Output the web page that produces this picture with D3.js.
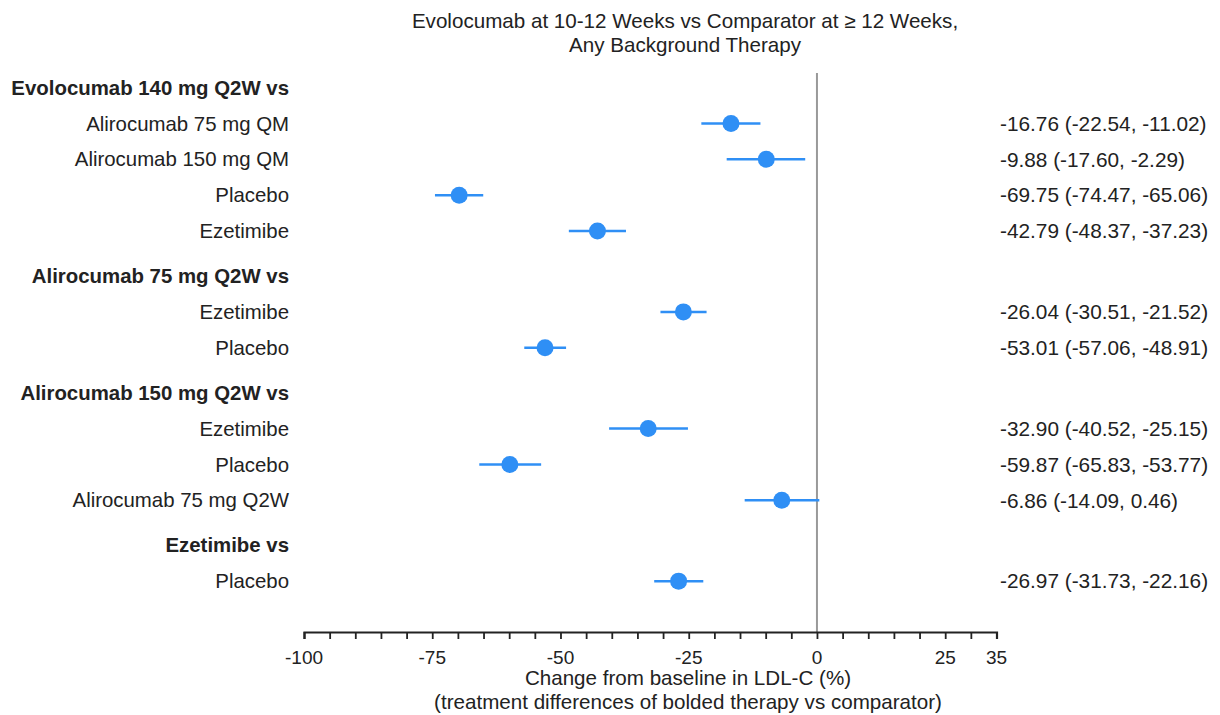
<!DOCTYPE html>
<html>
<head>
<meta charset="utf-8">
<script src="https://cdn.jsdelivr.net/npm/d3@7"></script>
<style>
  body { margin: 0; background: #fff; }
  text { font-family: "Liberation Sans", Arial, sans-serif; fill: #222; }
</style>
</head>
<body>
<svg id="chart" width="1220" height="715"></svg>
<script>
// ---- data ----
const groups = [
  "Evolocumab 140 mg Q2W vs",
  "Alirocumab 75 mg Q2W vs",
  "Alirocumab 150 mg Q2W vs",
  "Ezetimibe vs"
];
const comparators = [
  ["Alirocumab 75 mg QM", "Alirocumab 150 mg QM", "Placebo", "Ezetimibe"],
  ["Ezetimibe", "Placebo"],
  ["Ezetimibe", "Placebo", "Alirocumab 75 mg Q2W"],
  ["Placebo"]
];
const estimates = [
  [-16.76, -9.88, -69.75, -42.79],
  [-26.04, -53.01],
  [-32.90, -59.87, -6.86],
  [-26.97]
];
const lowerCI = [
  [-22.54, -17.60, -74.47, -48.37],
  [-30.51, -57.06],
  [-40.52, -65.83, -14.09],
  [-31.73]
];
const upperCI = [
  [-11.02, -2.29, -65.06, -37.23],
  [-21.52, -48.91],
  [-25.15, -53.77, 0.46],
  [-22.16]
];
const tickValues = [-100, -75, -50, -25, 0, 25, 35];
const minorTicks = d3.range(-100, 36, 5);
const titleLines = ["Evolocumab at 10-12 Weeks vs Comparator at \u2265 12 Weeks,", "Any Background Therapy"];
const xTitleLines = ["Change from baseline in LDL-C (%)", "(treatment differences of bolded therapy vs comparator)"];

// ---- build rows ----
const rows = [];
let slot = 0;
groups.forEach((g, gi) => {
  if (gi > 0) slot += 0.25;
  rows.push({type: "header", label: g, slot: slot});
  slot += 1;
  comparators[gi].forEach((c, ci) => {
    rows.push({type: "row", label: c, slot: slot,
      est: estimates[gi][ci], lo: lowerCI[gi][ci], hi: upperCI[gi][ci]});
    slot += 1;
  });
});

const svg = d3.select("#chart");
const color = "#2f8ff5";

const x = d3.scaleLinear().domain([-100, 35]).range([304, 996.5]);
const y = d3.scaleLinear().domain([0, 1]).range([87.5, 123.4]);
const axisY = 632;

// title
svg.append("g").selectAll("text").data(titleLines).join("text")
  .attr("x", 685).attr("y", (d, i) => 28 + i * 24)
  .attr("text-anchor", "middle").style("font-size", "20.6px")
  .text(d => d);

// zero line
svg.append("line")
  .attr("x1", x(0)).attr("x2", x(0))
  .attr("y1", 73).attr("y2", axisY)
  .attr("stroke", "#999").attr("stroke-width", 2);

// labels
svg.append("g").selectAll("text").data(rows).join("text")
  .attr("x", 289).attr("y", d => y(d.slot))
  .attr("dy", "0.35em")
  .attr("text-anchor", "end")
  .style("font-size", "20.4px")
  .style("font-weight", d => d.type === "header" ? "bold" : "normal")
  .text(d => d.label);

const data = rows.filter(r => r.type === "row");

// CI lines
svg.append("g").selectAll("line").data(data).join("line")
  .attr("x1", d => x(d.lo)).attr("x2", d => x(d.hi))
  .attr("y1", d => y(d.slot)).attr("y2", d => y(d.slot))
  .attr("stroke", color).attr("stroke-width", 2.5);

// points
svg.append("g").selectAll("circle").data(data).join("circle")
  .attr("cx", d => x(d.est)).attr("cy", d => y(d.slot))
  .attr("r", 8.5).attr("fill", color);

// right text
const f = v => v.toFixed(2);
svg.append("g").selectAll("text").data(data).join("text")
  .attr("x", 1000).attr("y", d => y(d.slot)).attr("dy", "0.35em")
  .style("font-size", "20.8px")
  .text(d => `${f(d.est)} (${f(d.lo)}, ${f(d.hi)})`);

// axis
const axis = d3.axisBottom(x).tickValues(minorTicks).tickSize(7).tickFormat("");
const ag = svg.append("g").attr("transform", `translate(0,${axisY})`).call(axis);
ag.select(".domain").attr("stroke", "#222").attr("stroke-width", 2.2);
ag.selectAll(".tick line").attr("stroke", "#222").attr("stroke-width", 1.8);

svg.append("g").selectAll("text").data(tickValues).join("text")
  .attr("x", d => x(d)).attr("y", 664)
  .attr("text-anchor", "middle").style("font-size", "19px")
  .text(d => d);

svg.append("g").selectAll("text").data(xTitleLines).join("text")
  .attr("x", 688).attr("y", (d, i) => 685 + i * 24)
  .attr("text-anchor", "middle").style("font-size", "20.6px")
  .text(d => d);
</script>
</body>
</html>
